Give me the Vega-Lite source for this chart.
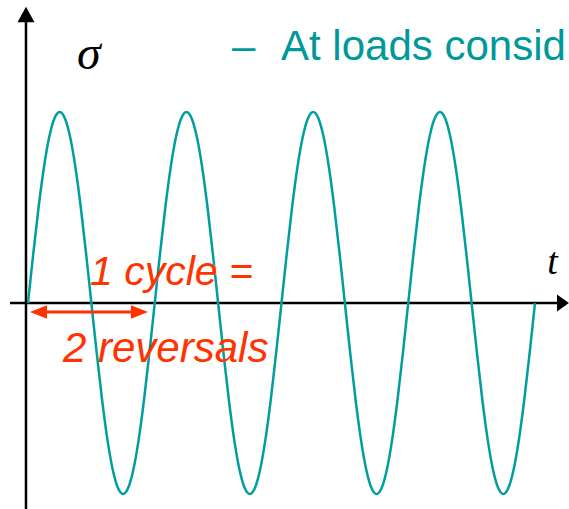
{
  "$schema": "https://vega.github.io/schema/vega-lite/v6.json",
  "width": 569,
  "height": 509,
  "padding": 0,
  "autosize": {"type": "none"},
  "background": "white",
  "config": {"view": {"stroke": null}},
  "datasets": {
    "wave": [
      {"x": 0, "y": 0}, {"x": 15, "y": 0.2588}, {"x": 30, "y": 0.5}, {"x": 45, "y": 0.7071}, {"x": 60, "y": 0.866}, {"x": 75, "y": 0.9659}, {"x": 90, "y": 1}, {"x": 105, "y": 0.9659}, {"x": 120, "y": 0.866}, {"x": 135, "y": 0.7071}, {"x": 150, "y": 0.5}, {"x": 165, "y": 0.2588},
      {"x": 180, "y": 0}, {"x": 195, "y": -0.2588}, {"x": 210, "y": -0.5}, {"x": 225, "y": -0.7071}, {"x": 240, "y": -0.866}, {"x": 255, "y": -0.9659}, {"x": 270, "y": -1}, {"x": 285, "y": -0.9659}, {"x": 300, "y": -0.866}, {"x": 315, "y": -0.7071}, {"x": 330, "y": -0.5}, {"x": 345, "y": -0.2588},
      {"x": 360, "y": 0}, {"x": 375, "y": 0.2588}, {"x": 390, "y": 0.5}, {"x": 405, "y": 0.7071}, {"x": 420, "y": 0.866}, {"x": 435, "y": 0.9659}, {"x": 450, "y": 1}, {"x": 465, "y": 0.9659}, {"x": 480, "y": 0.866}, {"x": 495, "y": 0.7071}, {"x": 510, "y": 0.5}, {"x": 525, "y": 0.2588},
      {"x": 540, "y": 0}, {"x": 555, "y": -0.2588}, {"x": 570, "y": -0.5}, {"x": 585, "y": -0.7071}, {"x": 600, "y": -0.866}, {"x": 615, "y": -0.9659}, {"x": 630, "y": -1}, {"x": 645, "y": -0.9659}, {"x": 660, "y": -0.866}, {"x": 675, "y": -0.7071}, {"x": 690, "y": -0.5}, {"x": 705, "y": -0.2588},
      {"x": 720, "y": 0}, {"x": 735, "y": 0.2588}, {"x": 750, "y": 0.5}, {"x": 765, "y": 0.7071}, {"x": 780, "y": 0.866}, {"x": 795, "y": 0.9659}, {"x": 810, "y": 1}, {"x": 825, "y": 0.9659}, {"x": 840, "y": 0.866}, {"x": 855, "y": 0.7071}, {"x": 870, "y": 0.5}, {"x": 885, "y": 0.2588},
      {"x": 900, "y": 0}, {"x": 915, "y": -0.2588}, {"x": 930, "y": -0.5}, {"x": 945, "y": -0.7071}, {"x": 960, "y": -0.866}, {"x": 975, "y": -0.9659}, {"x": 990, "y": -1}, {"x": 1005, "y": -0.9659}, {"x": 1020, "y": -0.866}, {"x": 1035, "y": -0.7071}, {"x": 1050, "y": -0.5}, {"x": 1065, "y": -0.2588},
      {"x": 1080, "y": 0}, {"x": 1095, "y": 0.2588}, {"x": 1110, "y": 0.5}, {"x": 1125, "y": 0.7071}, {"x": 1140, "y": 0.866}, {"x": 1155, "y": 0.9659}, {"x": 1170, "y": 1}, {"x": 1185, "y": 0.9659}, {"x": 1200, "y": 0.866}, {"x": 1215, "y": 0.7071}, {"x": 1230, "y": 0.5}, {"x": 1245, "y": 0.2588},
      {"x": 1260, "y": 0}, {"x": 1275, "y": -0.2588}, {"x": 1290, "y": -0.5}, {"x": 1305, "y": -0.7071}, {"x": 1320, "y": -0.866}, {"x": 1335, "y": -0.9659}, {"x": 1350, "y": -1}, {"x": 1365, "y": -0.9659}, {"x": 1380, "y": -0.866}, {"x": 1395, "y": -0.7071}, {"x": 1410, "y": -0.5}, {"x": 1425, "y": -0.2588},
      {"x": 1440, "y": 0}
    ]
  },
  "encoding": {
    "x": {"field": "x", "type": "quantitative", "scale": {"domain": [-79.5, 1536.6], "nice": false, "zero": false}, "axis": null},
    "y": {"field": "y", "type": "quantitative", "scale": {"domain": [-1.0785, 1.5864], "nice": false, "zero": false}, "axis": null}
  },
  "layer": [
    {
      "data": {"values": [
        {"x": -5.68, "x2": -5.68, "y": -1.0785, "y2": 1.4712},
        {"x": -51.1, "x2": 1507, "y": 0, "y2": 0}
      ]},
      "mark": {"type": "rule", "color": "black", "strokeWidth": 2.5},
      "encoding": {"x2": {"field": "x2"}, "y2": {"field": "y2"}}
    },
    {
      "data": {"values": [{"x": -5.68, "y": 1.5105}]},
      "mark": {"type": "point", "shape": "M0,-0.9L1,0.9L-1,0.9Z", "size": 289, "filled": true, "color": "black", "opacity": 1}
    },
    {
      "data": {"values": [{"x": 1519.5, "y": 0}]},
      "mark": {"type": "point", "shape": "M0.7,0L-0.7,-1L-0.7,1Z", "size": 289, "filled": true, "color": "black", "opacity": 1}
    },
    {
      "data": {"name": "wave"},
      "mark": {"type": "line", "color": "#009E9E", "strokeWidth": 2.5, "interpolate": "monotone"}
    },
    {
      "data": {"values": [{"x": 34.1, "x2": 312.4, "y": -0.0471}]},
      "mark": {"type": "rule", "color": "#FF3300", "strokeWidth": 3},
      "encoding": {"x2": {"field": "x2"}}
    },
    {
      "data": {"values": [{"x": 29.8, "y": -0.0471}]},
      "mark": {"type": "point", "shape": "M-1,0L1,-0.8L1,0.8Z", "size": 289, "filled": true, "color": "#FF3300", "opacity": 1}
    },
    {
      "data": {"values": [{"x": 316.7, "y": -0.0471}]},
      "mark": {"type": "point", "shape": "M1,0L-1,-0.8L-1,0.8Z", "size": 289, "filled": true, "color": "#FF3300", "opacity": 1}
    },
    {
      "data": {"values": [{"x": 173, "y": 1.2251, "label": "σ"}]},
      "mark": {"type": "text", "font": "Liberation Serif", "fontStyle": "italic", "fontSize": 48, "color": "black", "align": "center", "baseline": "alphabetic"},
      "encoding": {"text": {"field": "label"}}
    },
    {
      "data": {"values": [{"x": 1489.7, "y": 0.1518, "label": "t"}]},
      "mark": {"type": "text", "font": "Liberation Serif", "fontStyle": "italic", "fontSize": 38, "color": "black", "align": "center", "baseline": "alphabetic"},
      "encoding": {"text": {"field": "label"}}
    },
    {
      "data": {"values": [{"x": 579.4, "y": 1.2723, "label": "–"}, {"x": 718.6, "y": 1.2723, "label": "At loads consid"}]},
      "mark": {"type": "text", "font": "Liberation Sans", "fontSize": 42, "color": "#009999", "align": "left", "baseline": "alphabetic"},
      "encoding": {"text": {"field": "label"}}
    },
    {
      "data": {"values": [{"x": 176.1, "y": 0.0942, "label": "1 cycle ="}]},
      "mark": {"type": "text", "font": "Liberation Sans", "fontStyle": "italic", "fontSize": 41, "color": "#FF3300", "align": "left", "baseline": "alphabetic"},
      "encoding": {"text": {"field": "label"}}
    },
    {
      "data": {"values": [{"x": 99.4, "y": -0.3089, "label": "2 reversals"}]},
      "mark": {"type": "text", "font": "Liberation Sans", "fontStyle": "italic", "fontSize": 42, "color": "#FF3300", "align": "left", "baseline": "alphabetic"},
      "encoding": {"text": {"field": "label"}}
    }
  ]
}
